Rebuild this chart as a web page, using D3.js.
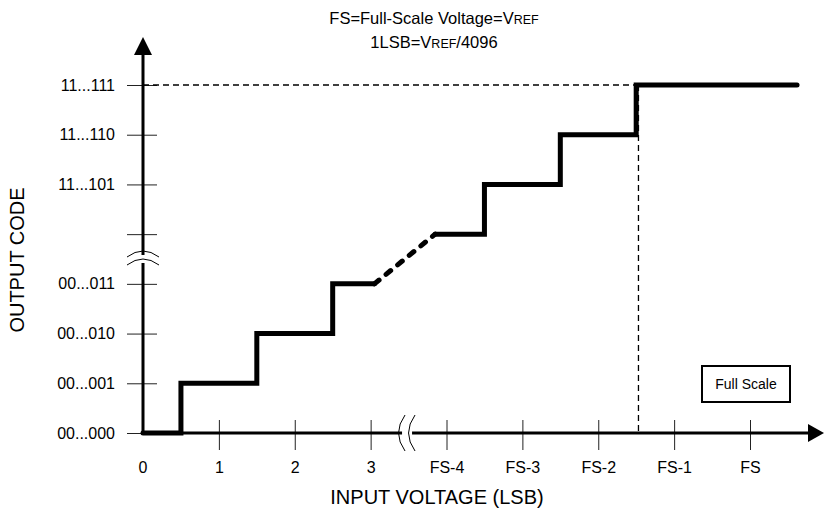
<!DOCTYPE html>
<html>
<head>
<meta charset="utf-8">
<script src="https://cdn.jsdelivr.net/npm/d3@7"></script>
<style>
  body { margin: 0; background: #fff; }
  text { font-family: Arial, "Liberation Sans", sans-serif; fill: #000; }
</style>
</head>
<body>
<div id="chart"></div>
<script>
//--------------------------------------------------------------
// DATA
//--------------------------------------------------------------
// x tick labels (input voltage, LSB) at index 0..8
var xLabels = ["0", "1", "2", "3", "FS-4", "FS-3", "FS-2", "FS-1", "FS"];
// y tick labels (output code) at index 0..7, index 4 has no label
var yLabels = ["00...000", "00...001", "00...010", "00...011", "", "11...101", "11...110", "11...111"];

// transfer function, solid parts [x, code]
var stepLow = [[0, 0], [0.5, 0], [0.5, 1], [1.5, 1], [1.5, 2], [2.5, 2], [2.5, 3], [3.05, 3]];
var stepGap = [[3.05, 3], [3.85, 4]];
var stepHigh = [[3.85, 4], [4.5, 4], [4.5, 5], [5.5, 5], [5.5, 6], [6.5, 6], [6.5, 7], [8.62, 7]];
// full scale marker
var fullScaleX = 6.53;
var fullScaleCode = 7;
// axis breaks
var xBreak = 3.48;
var yBreak = 3.5;

//--------------------------------------------------------------
// SIZE
//--------------------------------------------------------------
var width = 824;
var height = 513;

var svg = d3.select("#chart").append("svg")
   .attr("width", width)
   .attr("height", height);

var x = d3.scaleLinear().domain([0, 8]).range([143, 750]);
var y = d3.scaleLinear().domain([0, 7]).range([433, 85]);

var x0 = x(0), y0 = y(0);

//--------------------------------------------------------------
// TITLE
//--------------------------------------------------------------
var t1 = svg.append("text")
   .attr("x", 434).attr("y", 24)
   .attr("text-anchor", "middle")
   .attr("font-size", 16.5);
t1.append("tspan").text("FS=Full-Scale Voltage=V");
t1.append("tspan").attr("font-size", 12.5).text("REF");

var t2 = svg.append("text")
   .attr("x", 434).attr("y", 48)
   .attr("text-anchor", "middle")
   .attr("font-size", 16.5);
t2.append("tspan").text("1LSB=V");
t2.append("tspan").attr("font-size", 12.5).text("REF");
t2.append("tspan").text("/4096");

//--------------------------------------------------------------
// AXES (ticks)
//--------------------------------------------------------------
var xAxis = d3.axisBottom(x)
   .tickValues(d3.range(1, xLabels.length))
   .tickFormat(d => xLabels[d])
   .tickSize(30)
   .tickPadding(12);

var gx = svg.append("g")
   .attr("transform", `translate(0, ${y0 - 13})`)
   .call(xAxis);
gx.select(".domain").remove();

var yAxis = d3.axisLeft(y)
   .tickValues(d3.range(0, yLabels.length))
   .tickFormat(d => yLabels[d])
   .tickSize(30)
   .tickPadding(12);

var gy = svg.append("g")
   .attr("transform", `translate(${x0 + 14}, 0)`)
   .call(yAxis);
gy.select(".domain").remove();

svg.selectAll(".tick line").attr("stroke", "#222").attr("stroke-width", 1);
svg.selectAll(".tick text")
   .attr("font-size", 16)
   .attr("font-family", "Arial, 'Liberation Sans', sans-serif")
   .attr("fill", "#000");
// 0 label on x axis, under origin
svg.append("text")
   .attr("x", x0).attr("y", y0 + 40)
   .attr("text-anchor", "middle")
   .attr("font-size", 16)
   .text(xLabels[0]);

//--------------------------------------------------------------
// AXIS LINES + ARROWS
//--------------------------------------------------------------
svg.append("line")
   .attr("x1", x0).attr("y1", y0)
   .attr("x2", 810).attr("y2", y0)
   .attr("stroke", "#000").attr("stroke-width", 3);
svg.append("path")
   .attr("d", `M808,${y0 - 9}L824,${y0}L808,${y0 + 9}Z`)
   .attr("fill", "#000");

svg.append("line")
   .attr("x1", x0).attr("y1", y0)
   .attr("x2", x0).attr("y2", 52)
   .attr("stroke", "#000").attr("stroke-width", 3);
svg.append("path")
   .attr("d", `M${x0 - 9},55L${x0},37L${x0 + 9},55Z`)
   .attr("fill", "#000");

//--------------------------------------------------------------
// AXIS BREAKS
//--------------------------------------------------------------
var bx = x(xBreak);
svg.append("rect")
   .attr("x", bx - 5).attr("y", y0 - 3)
   .attr("width", 10).attr("height", 6)
   .attr("fill", "#fff");
[-5, 5].forEach(function(o) {
   svg.append("path")
      .attr("d", `M${bx + o + 3},${y0 - 18}Q${bx + o - 10},${y0} ${bx + o + 3},${y0 + 18}`)
      .attr("fill", "none").attr("stroke", "#000").attr("stroke-width", 1);
});

var by = y(yBreak);
svg.append("rect")
   .attr("x", x0 - 3).attr("y", by - 4)
   .attr("width", 6).attr("height", 8)
   .attr("fill", "#fff");
[-4, 4].forEach(function(o) {
   svg.append("path")
      .attr("d", `M${x0 - 16},${by + o + 2}Q${x0},${by + o - 10} ${x0 + 16},${by + o + 2}`)
      .attr("fill", "none").attr("stroke", "#000").attr("stroke-width", 1);
});

//--------------------------------------------------------------
// FULL SCALE DASHED GUIDES
//--------------------------------------------------------------
svg.append("line")
   .attr("x1", x0).attr("y1", y(fullScaleCode))
   .attr("x2", x(fullScaleX)).attr("y2", y(fullScaleCode))
   .attr("stroke", "#000").attr("stroke-width", 1.3)
   .attr("stroke-dasharray", "6,4");
svg.append("line")
   .attr("x1", x(fullScaleX)).attr("y1", y(fullScaleCode))
   .attr("x2", x(fullScaleX)).attr("y2", y0)
   .attr("stroke", "#000").attr("stroke-width", 1.3)
   .attr("stroke-dasharray", "6,4");

//--------------------------------------------------------------
// TRANSFER FUNCTION
//--------------------------------------------------------------
var line = d3.line().x(d => x(d[0])).y(d => y(d[1]));

[stepLow, stepHigh].forEach(function(seg) {
   svg.append("path")
      .attr("d", line(seg))
      .attr("fill", "none")
      .attr("stroke", "#000")
      .attr("stroke-width", 5)
      .attr("stroke-linecap", "round")
      .attr("stroke-linejoin", "miter");
});
svg.append("path")
   .attr("d", line(stepGap))
   .attr("fill", "none")
   .attr("stroke", "#000")
   .attr("stroke-width", 5)
   .attr("stroke-linecap", "round")
   .attr("stroke-dasharray", "6,9");

//--------------------------------------------------------------
// LEGEND BOX + AXIS TITLES
//--------------------------------------------------------------
svg.append("rect")
   .attr("x", 702).attr("y", 366)
   .attr("width", 88).attr("height", 36)
   .attr("fill", "#fff").attr("stroke", "#000").attr("stroke-width", 2);
svg.append("text")
   .attr("x", 746).attr("y", 389)
   .attr("text-anchor", "middle")
   .attr("font-size", 14)
   .text("Full Scale");

svg.append("text")
   .attr("transform", "translate(24, 260) rotate(-90)")
   .attr("text-anchor", "middle")
   .attr("font-size", 20)
   .text("OUTPUT CODE");

svg.append("text")
   .attr("x", 437).attr("y", 504)
   .attr("text-anchor", "middle")
   .attr("font-size", 20)
   .text("INPUT VOLTAGE (LSB)");
</script>
</body>
</html>
